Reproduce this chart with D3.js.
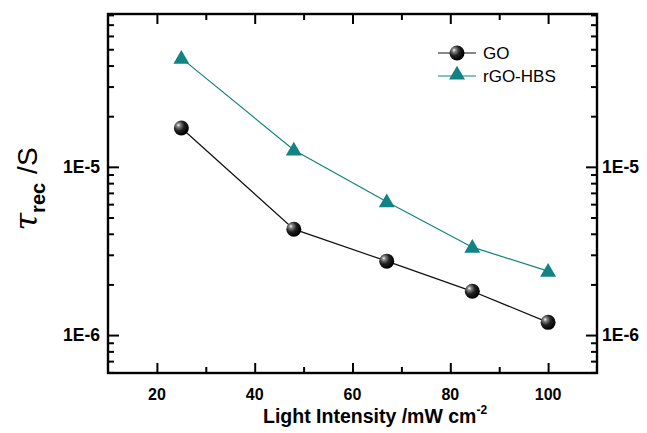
<!DOCTYPE html>
<html>
<head>
<meta charset="utf-8">
<script src="https://cdn.jsdelivr.net/npm/d3@7"></script>
<style>
  body { margin: 0; background: #fff; }
  text { font-family: Arial, "Liberation Sans", sans-serif; }
</style>
</head>
<body>
<div id="chart"></div>
<script>
var intensity = [25, 48, 67, 84.5, 100];
var goValues = [1.70e-5, 4.26e-6, 2.75e-6, 1.82e-6, 1.19e-6];
var rgoValues = [4.43e-5, 1.26e-5, 6.2e-6, 3.33e-6, 2.4e-6];
var seriesNames = ["GO", "rGO-HBS"];
var xTicks = [20, 40, 60, 80, 100];
var xMinorTicks = [30, 50, 70, 90];
var yTicks = [1e-6, 1e-5];
var yMinorTicks = [6e-7, 7e-7, 8e-7, 9e-7, 2e-6, 3e-6, 4e-6, 5e-6, 6e-6, 7e-6, 8e-6, 9e-6,
                   2e-5, 3e-5, 4e-5, 5e-5, 6e-5, 7e-5, 8e-5];

function init(){
    var w = 647;
    var h = 433;
    var left = 108, right = 597, top = 14, bottom = 373;
    var teal = "#118382";

    var svg = d3.select("#chart")
                .append("svg")
                .attr("width", w)
                .attr("height", h);

    var defs = svg.append("defs");
    var grad = defs.append("radialGradient")
        .attr("id", "ball")
        .attr("cx", "35%").attr("cy", "35%").attr("r", "65%")
        .attr("fx", "30%").attr("fy", "30%");
    grad.append("stop").attr("offset", "0%").attr("stop-color", "#ffffff");
    grad.append("stop").attr("offset", "18%").attr("stop-color", "#8a8a8a");
    grad.append("stop").attr("offset", "55%").attr("stop-color", "#202020");
    grad.append("stop").attr("offset", "100%").attr("stop-color", "#000000");

    var xscale = d3.scaleLinear()
                    .domain([10, 110])
                    .range([left, right]);

    var yscale = d3.scaleLog()
                    .domain([5.95e-7, 8.1e-5])
                    .range([bottom, top]);

    function tickFmt(d) { return "1E" + Math.round(Math.log10(d)); }

    function styleAxis(g) {
        g.select(".domain").remove();
        g.selectAll(".tick line").attr("stroke", "#000").attr("stroke-width", 2);
    }

    // inward ticks on all four sides
    svg.append("g").attr("transform", "translate(0," + bottom + ")")
        .call(d3.axisBottom(xscale).tickValues(xTicks).tickSize(-10).tickFormat(""))
        .call(styleAxis);
    svg.append("g").attr("transform", "translate(0," + bottom + ")")
        .call(d3.axisBottom(xscale).tickValues(xMinorTicks).tickSize(-6).tickFormat(""))
        .call(styleAxis);
    svg.append("g").attr("transform", "translate(0," + top + ")")
        .call(d3.axisTop(xscale).tickValues(xTicks).tickSize(-10).tickFormat(""))
        .call(styleAxis);
    svg.append("g").attr("transform", "translate(0," + top + ")")
        .call(d3.axisTop(xscale).tickValues(xMinorTicks).tickSize(-6).tickFormat(""))
        .call(styleAxis);

    svg.append("g").attr("transform", "translate(" + left + ",0)")
        .call(d3.axisLeft(yscale).tickValues(yTicks).tickSize(-11).tickFormat(""))
        .call(styleAxis);
    svg.append("g").attr("transform", "translate(" + left + ",0)")
        .call(d3.axisLeft(yscale).tickValues(yMinorTicks).tickSize(-6).tickFormat(""))
        .call(styleAxis);
    svg.append("g").attr("transform", "translate(" + right + ",0)")
        .call(d3.axisRight(yscale).tickValues(yTicks).tickSize(-11).tickFormat(""))
        .call(styleAxis);
    svg.append("g").attr("transform", "translate(" + right + ",0)")
        .call(d3.axisRight(yscale).tickValues(yMinorTicks).tickSize(-6).tickFormat(""))
        .call(styleAxis);

    // frame
    svg.append("rect")
        .attr("x", left).attr("y", top)
        .attr("width", right - left).attr("height", bottom - top)
        .attr("fill", "none").attr("stroke", "#000").attr("stroke-width", 2.4);

    // tick labels
    svg.selectAll(".xl").data(xTicks).enter().append("text")
        .attr("class", "xl")
        .attr("x", function(d) { return xscale(d); })
        .attr("y", bottom + 27)
        .attr("text-anchor", "middle")
        .style("font-size", "16px").style("font-weight", "bold")
        .text(function(d) { return d; });

    svg.selectAll(".yl").data(yTicks).enter().append("text")
        .attr("class", "yl")
        .attr("x", left - 8)
        .attr("y", function(d) { return yscale(d) + 6; })
        .attr("text-anchor", "end")
        .style("font-size", "17.5px").style("font-weight", "bold")
        .text(tickFmt);

    svg.selectAll(".yr").data(yTicks).enter().append("text")
        .attr("class", "yr")
        .attr("x", right + 5)
        .attr("y", function(d) { return yscale(d) + 6; })
        .attr("text-anchor", "start")
        .style("font-size", "17.5px").style("font-weight", "bold")
        .text(tickFmt);

    // axis titles
    var xt = svg.append("text")
        .attr("x", 263).attr("y", 423)
        .attr("text-anchor", "start")
        .style("font-size", "19.5px").style("font-weight", "bold");
    xt.append("tspan").text("Light Intensity /mW cm");
    xt.append("tspan").attr("dy", -9).style("font-size", "12px").text("-2");

    var yt = svg.append("text")
        .attr("transform", "translate(37, 189) rotate(-90)")
        .attr("text-anchor", "middle");
    yt.append("tspan").style("font-size", "32px").style("font-style", "italic")
        .style("font-family", "'DejaVu Serif', serif").text("τ");
    yt.append("tspan").attr("dy", 8).style("font-size", "20px").style("font-weight", "bold").text("rec");
    yt.append("tspan").attr("dy", -8).attr("dx", 9).style("font-size", "28px").text("/S");

    var line = d3.line()
        .x(function(d) { return xscale(d[0]); })
        .y(function(d) { return yscale(d[1]); });

    var goData = intensity.map(function(x, i) { return [x, goValues[i]]; });
    var rgoData = intensity.map(function(x, i) { return [x, rgoValues[i]]; });

    svg.append("path").datum(goData)
        .attr("d", line).attr("fill", "none")
        .attr("stroke", "#111").attr("stroke-width", 1.2);
    svg.append("path").datum(rgoData)
        .attr("d", line).attr("fill", "none")
        .attr("stroke", teal).attr("stroke-width", 1.2);

    var tri = d3.symbol().type(d3.symbolTriangle).size(110);

    svg.selectAll(".tri").data(rgoData).enter().append("path")
        .attr("class", "tri")
        .attr("d", tri)
        .attr("transform", function(d) { return "translate(" + xscale(d[0]) + "," + (yscale(d[1]) + 1) + ")"; })
        .attr("fill", teal);

    svg.selectAll(".ball").data(goData).enter().append("circle")
        .attr("class", "ball")
        .attr("cx", function(d) { return xscale(d[0]); })
        .attr("cy", function(d) { return yscale(d[1]); })
        .attr("r", 7.5)
        .attr("fill", "url(#ball)");

    // legend
    var lx1 = 438, lx2 = 476, lxm = 457;
    var ly = [53, 76];
    svg.append("line").attr("x1", lx1).attr("x2", lx2).attr("y1", ly[0]).attr("y2", ly[0])
        .attr("stroke", "#111").attr("stroke-width", 1.2);
    svg.append("circle").attr("cx", lxm).attr("cy", ly[0]).attr("r", 7.5).attr("fill", "url(#ball)");
    svg.append("line").attr("x1", lx1).attr("x2", lx2).attr("y1", ly[1]).attr("y2", ly[1])
        .attr("stroke", teal).attr("stroke-width", 1.2);
    svg.append("path").attr("d", tri).attr("transform", "translate(" + lxm + "," + (ly[1] - 1) + ")").attr("fill", teal);

    svg.selectAll(".lt").data(seriesNames).enter().append("text")
        .attr("class", "lt")
        .attr("x", 483)
        .attr("y", function(d, i) { return ly[i] + 6; })
        .style("font-size", "17px")
        .text(function(d) { return d; });
}
window.onload = init;
</script>
</body>
</html>
